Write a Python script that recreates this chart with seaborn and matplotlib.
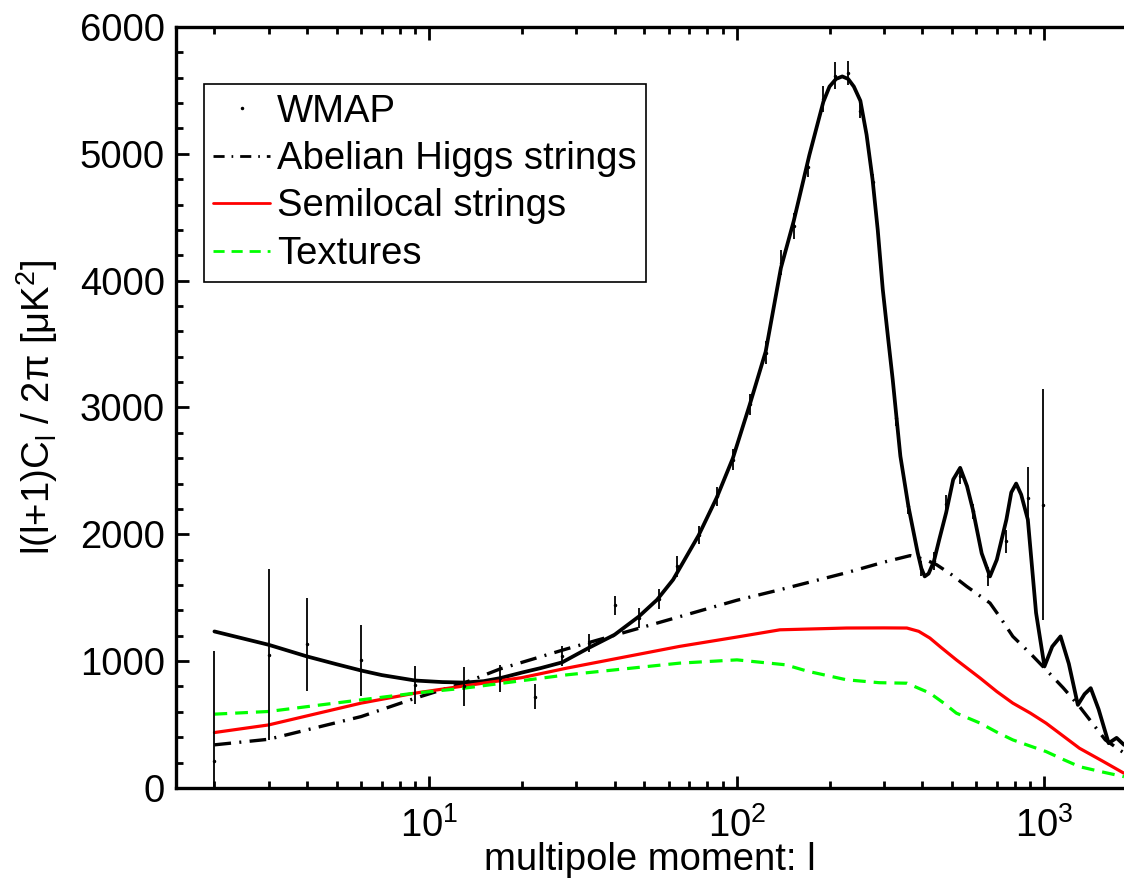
import numpy as np
import pandas as pd
import matplotlib
matplotlib.use("Agg")
import matplotlib.pyplot as plt
import seaborn as sns
from matplotlib.lines import Line2D
from matplotlib.ticker import LogLocator, MultipleLocator

# ---- data ----
wmap_l = [2, 3, 4, 6, 9, 13, 17, 22, 27, 33, 40, 48, 56, 64, 75, 86, 97, 110,
          124, 139, 153, 170, 191, 209, 230, 252, 276, 329, 361, 398, 437, 479,
          531, 586, 657, 749, 887, 989]
wmap_v = [213, 1050, 1134, 1005, 813, 800, 865, 721, 1040, 1140, 1439, 1340,
          1492, 1747, 1997, 2300, 2589, 3024, 3432, 4142, 4431, 4894, 5431,
          5616, 5637, 5339, 4779, 2913, 2221, 1729, 1787, 2242, 2458, 2182,
          1668, 1945, 2287, 2234]
wmap_err = [870, 675, 366, 277, 150, 150, 105, 100, 80, 70, 78, 78, 80, 80,
            70, 75, 80, 85, 90, 100, 100, 80, 105, 105, 95, 55, 60, 60, 60,
            60, 70, 70, 60, 60, 75, 90, 240, 910]

lcdm_l = [2, 3, 4, 5, 6, 7, 9, 11, 13, 15, 17, 20, 23, 27, 33, 40, 48, 55, 62,
          75, 86, 97, 110, 124, 139, 153, 172, 191, 200, 210, 220, 230, 240,
          252, 264, 276, 287, 298, 310, 321, 340, 361, 387, 398, 408, 420, 437,
          455, 479, 505, 532, 560, 585, 625, 665, 700, 752, 780, 809, 840, 883,
          939, 1000, 1060, 1128, 1200, 1284, 1350, 1414, 1500, 1617, 1716, 1814]
lcdm_v = [1234, 1129, 1037, 975, 926, 890, 847, 835, 831, 842, 866, 910, 945,
          990, 1105, 1208, 1352, 1484, 1642, 1990, 2290, 2600, 3020, 3440, 4100,
          4470, 4990, 5410, 5530, 5590, 5610, 5590, 5530, 5418, 5150, 4800,
          4400, 3931, 3550, 3221, 2616, 2221, 1855, 1730, 1668, 1690, 1787, 1960,
          2171, 2432, 2524, 2380, 2195, 1850, 1668, 1800, 2116, 2330, 2400, 2313,
          2116, 1381, 958, 1115, 1195, 980, 655, 740, 787, 620, 353, 395, 340]

ah_l = [2, 3, 6, 9, 13, 17, 28, 65, 100, 138, 227, 300, 366, 410, 446, 500,
        558, 665, 720, 789, 900, 1012, 1150, 1300, 1577, 1814]
ah_v = [340, 384, 563, 708, 829, 939, 1097, 1350, 1480, 1563, 1697, 1780,
        1832, 1800, 1760, 1680, 1590, 1458, 1340, 1195, 1060, 932, 790, 642,
        379, 276]

sl_l = [2, 3, 6, 9, 13, 20, 28, 65, 100, 138, 227, 300, 357, 390, 424, 460,
        517, 618, 700, 789, 900, 1012, 1150, 1300, 1550, 1814]
sl_v = [437, 497, 669, 748, 805, 870, 945, 1116, 1190, 1247, 1261, 1262, 1261,
        1235, 1182, 1110, 1010, 866, 760, 669, 590, 511, 410, 313, 210, 116]

tx_l = [2, 3, 6, 9, 13, 28, 65, 100, 144, 170, 227, 290, 357, 424, 470, 517,
        618, 700, 789, 900, 1012, 1150, 1300, 1550, 1814]
tx_v = [582, 603, 695, 748, 787, 892, 984, 1010, 971, 920, 853, 830, 826, 748,
        670, 590, 511, 440, 379, 330, 287, 225, 168, 125, 89]

labels = ["WMAP", "Abelian Higgs strings", "Semilocal strings", "Textures"]
x_label = "multipole moment: l"
y_label = r"l(l+1)C$_\mathregular{l}$ / 2$\pi$ [$\mu$K$^\mathregular{2}$]"

# ---- style ----
sns.set_style("ticks")
plt.rcParams["font.family"] = ["Liberation Sans", "DejaVu Sans"]
plt.rcParams["mathtext.fontset"] = "custom"
plt.rcParams["mathtext.rm"] = "Liberation Sans"
plt.rcParams["mathtext.it"] = "Liberation Sans"
plt.rcParams["mathtext.default"] = "regular"
plt.rcParams["text.color"] = "black"
plt.rcParams["axes.labelcolor"] = "black"
plt.rcParams["xtick.color"] = "black"
plt.rcParams["ytick.color"] = "black"

FS = 27.5

fig = plt.figure(figsize=(11.24, 8.81), dpi=100)
ax = fig.add_axes([0.1566, 0.1056, 0.8434, 0.8638])

df_lcdm = pd.DataFrame({"l": lcdm_l, "v": lcdm_v})
df_ah = pd.DataFrame({"l": ah_l, "v": ah_v})
df_sl = pd.DataFrame({"l": sl_l, "v": sl_v})
df_tx = pd.DataFrame({"l": tx_l, "v": tx_v})

ah_style = (0, (5, 2.5, 0.6, 2.5))
tx_style = (0, (4, 2.5))

sns.lineplot(data=df_lcdm, x="l", y="v", ax=ax, color="black", lw=2.7,
             estimator=None, sort=False, zorder=3)
sns.lineplot(data=df_ah, x="l", y="v", ax=ax, color="black", lw=2.4,
             linestyle=ah_style, estimator=None, sort=False, zorder=3)
sns.lineplot(data=df_sl, x="l", y="v", ax=ax, color="#ff0000", lw=2.3,
             estimator=None, sort=False, zorder=3)
sns.lineplot(data=df_tx, x="l", y="v", ax=ax, color="#00ff00", lw=2.3,
             linestyle=tx_style, estimator=None, sort=False, zorder=3)

ax.errorbar(wmap_l, wmap_v, yerr=wmap_err, fmt=".", color="black",
            ms=3, elinewidth=1.3, capsize=0, zorder=4)

ax.set_xscale("log")
ax.set_xlim(1.5, 1814)
ax.set_ylim(0, 6000)

ax.yaxis.set_major_locator(MultipleLocator(1000))
ax.yaxis.set_minor_locator(MultipleLocator(200))
ax.xaxis.set_major_locator(LogLocator(base=10, numticks=10))
ax.xaxis.set_minor_locator(LogLocator(base=10, subs=np.arange(2, 10), numticks=20))

ax.tick_params(axis="both", which="both", direction="in", top=True,
               right=False, labelsize=FS, width=2, color="black", pad=8,
               labelcolor="black")
ax.tick_params(axis="both", which="major", length=9)
ax.tick_params(axis="both", which="minor", length=5)
ax.tick_params(axis="x", which="major", pad=14)

for s in ["left", "bottom", "top"]:
    ax.spines[s].set_linewidth(2.4)
    ax.spines[s].set_color("black")
ax.spines["right"].set_visible(False)

ax.set_xlabel(x_label, fontsize=FS, labelpad=-2)
ax.set_ylabel(y_label, fontsize=FS, labelpad=14)

handles = [
    Line2D([], [], color="black", marker=".", ms=3, linestyle="none"),
    Line2D([], [], color="black", lw=2.0, linestyle=(0, (4, 2.5, 0.6, 2.5))),
    Line2D([], [], color="#ff0000", lw=2.0),
    Line2D([], [], color="#00ff00", lw=2.0, linestyle=tx_style),
]
leg = ax.legend(handles, labels,
                loc="upper left", bbox_to_anchor=(0.029, 0.925),
                fontsize=FS, frameon=True, fancybox=False, framealpha=1,
                edgecolor="black", handlelength=1.5, handletextpad=0.18,
                borderpad=0.25, labelspacing=0.3, borderaxespad=0)
leg.get_frame().set_linewidth(1.2)
for t in leg.get_texts():
    t.set_color("black")

fig.savefig("out.png", dpi=100)
